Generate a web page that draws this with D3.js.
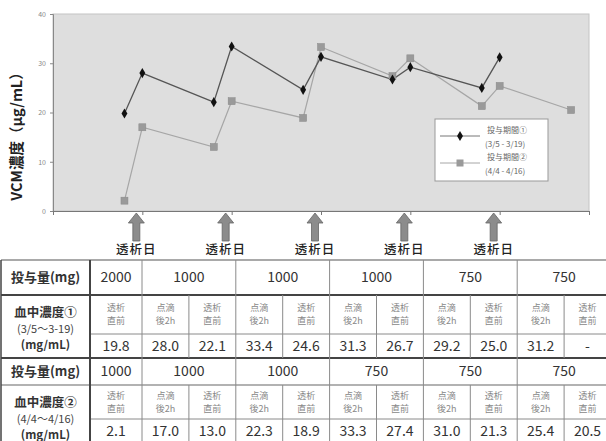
<!DOCTYPE html>
<html><head><meta charset="utf-8">
<script src="https://cdn.jsdelivr.net/npm/d3@7"></script>
<style>body{margin:0;background:#fff}svg{display:block}</style>
</head><body>
<script>
// ---- data ----
const xPos = [0.8, 1, 1.8, 2, 2.8, 3, 3.8, 4, 4.8, 5, 5.8];
const conc1 = [19.8, 28.0, 22.1, 33.4, 24.6, 31.3, 26.7, 29.2, 25.0, 31.2, null];
const conc2 = [2.1, 17.0, 13.0, 22.3, 18.9, 33.3, 27.4, 31.0, 21.3, 25.4, 20.5];
const timingLabels = ["透析\n直前","点滴\n後2h","透析\n直前","点滴\n後2h","透析\n直前","点滴\n後2h","透析\n直前","点滴\n後2h","透析\n直前","点滴\n後2h","透析\n直前"];
const dose1 = [2000, 1000, 1000, 1000, 750, 750];
const dose2 = [1000, 1000, 1000, 750, 750, 750];
const doseSpans = [1, 2, 2, 2, 2, 2];
const dialysisDays = [1, 2, 3, 4, 5];
const yTicks = [0, 10, 20, 30, 40];
const seriesNames = [["投与期間①", "(3/5 - 3/19)"], ["投与期間②", "(4/4 - 4/16)"]];
const rowHeads = ["投与量(mg)", "血中濃度①\n(3/5〜3-19)\n(mg/mL)", "投与量(mg)", "血中濃度②\n(4/4〜4/16)\n(mg/mL)"];

const W = 606, H = 441;
const F = "'Noto Sans CJK JP','Noto Sans',sans-serif";
const svg = d3.select("body").append("svg").attr("width", W).attr("height", H).style("font-family", F);

// ---- chart ----
const x = d3.scaleLinear().domain([0, 6]).range([53, 589]);
const y = d3.scaleLinear().domain([0, 40]).range([211, 14]);

svg.append("rect").attr("x", x(0)).attr("y", y(40)).attr("width", x(6) - x(0)).attr("height", y(0) - y(40))
  .attr("fill", "#dedede").attr("stroke", "#c4c4c4");

const yAxis = svg.append("g").attr("transform", `translate(${x(0)},0)`)
  .call(d3.axisLeft(y).tickValues(yTicks).tickSize(3).tickPadding(4));
yAxis.select(".domain").attr("stroke", "#888");
yAxis.selectAll("line").attr("stroke", "#888");
yAxis.selectAll("text").attr("fill", "#888").style("font-size", "7px").style("font-family", F);

const xAxis = svg.append("g").attr("transform", `translate(0,${y(0)})`)
  .call(d3.axisBottom(x).tickValues([0, 1, 2, 3, 4, 5, 6]).tickSize(4).tickFormat(""));
xAxis.select(".domain").attr("stroke", "#777");
xAxis.selectAll("line").attr("stroke", "#777");

svg.append("text").attr("transform", `translate(18,133) rotate(-90)`)
  .attr("text-anchor", "middle").attr("dominant-baseline", "middle")
  .style("font-size", "14.5px").style("font-weight", "bold").attr("fill", "#222")
  .text("VCM濃度（μg/mL）");

const pts1 = xPos.map((d, i) => [d, conc1[i]]).filter(d => d[1] != null);
const pts2 = xPos.map((d, i) => [d, conc2[i]]).filter(d => d[1] != null);
const line = d3.line().x(d => x(d[0])).y(d => y(d[1]));

svg.append("path").attr("d", line(pts2)).attr("fill", "none").attr("stroke", "#a6a6a6").attr("stroke-width", 1.2);
svg.append("path").attr("d", line(pts1)).attr("fill", "none").attr("stroke", "#555").attr("stroke-width", 1.3);

svg.selectAll(".sq").data(pts2).enter().append("rect")
  .attr("x", d => x(d[0]) - 3.5).attr("y", d => y(d[1]) - 3.5).attr("width", 7).attr("height", 7)
  .attr("fill", "#9a9a9a").attr("stroke", "#8a8a8a").attr("stroke-width", 0.5);
const diamond = d3.symbol().type(d3.symbolDiamond).size(30);
svg.selectAll(".dm").data(pts1).enter().append("path")
  .attr("transform", d => `translate(${x(d[0])},${y(d[1])})`).attr("d", diamond).attr("fill", "#111");

// legend
const lg = svg.append("g").attr("transform", "translate(435,119)");
lg.append("rect").attr("width", 113).attr("height", 62).attr("fill", "#fff").attr("stroke", "#999");
[0, 1].forEach(i => {
  const yy = 17 + i * 27;
  lg.append("line").attr("x1", 5).attr("x2", 45).attr("y1", yy).attr("y2", yy)
    .attr("stroke", i === 0 ? "#777" : "#a6a6a6").attr("stroke-width", 1);
  if (i === 0) lg.append("path").attr("transform", `translate(25,${yy})`).attr("d", diamond).attr("fill", "#111");
  else lg.append("rect").attr("x", 21.5).attr("y", yy - 3.5).attr("width", 7).attr("height", 7).attr("fill", "#9a9a9a");
  lg.append("text").attr("x", 52).attr("y", yy - 3).style("font-size", "8px").attr("fill", "#666").text(seriesNames[i][0]);
  lg.append("text").attr("x", 50).attr("y", yy + 11).style("font-size", "8px").attr("fill", "#666").text(seriesNames[i][1]);
});

// dialysis arrows
dialysisDays.forEach(d => {
  const cx = x(d) - 6;
  const g = svg.append("g").attr("transform", `translate(${cx},213)`);
  g.append("path").attr("d", "M0,0 L8,10 L3.5,10 L3.5,28 L-3.5,28 L-3.5,10 L-8,10 Z")
    .attr("fill", "#8c8c8c").attr("stroke", "#666").attr("stroke-width", 0.8);
  svg.append("text").attr("x", cx).attr("y", 254).attr("text-anchor", "middle")
    .style("font-size", "12.5px").style("font-weight", "500").attr("fill", "#222")
    .style("letter-spacing", "1px").text("透析日");
});

// ---- table ----
const colEdges = [1, 90, 142].concat(d3.range(1, 11).map(i => 142 + i * 46.9));
const rowEdges = [260, 295, 334, 358, 385, 419, 443];
const tg = svg.append("g");
const thin = "#8a8a8a";

function hline(x1, x2, yy, w, c) { tg.append("line").attr("x1", x1).attr("x2", x2).attr("y1", yy).attr("y2", yy).attr("stroke", c).attr("stroke-width", w); }
function vline(xx, y1, y2, w, c) { tg.append("line").attr("x1", xx).attr("x2", xx).attr("y1", y1).attr("y2", y2).attr("stroke", c).attr("stroke-width", w); }
function txt(xx, yy, s, size, color, weight) {
  tg.append("text").attr("x", xx).attr("y", yy).attr("dy", "0.35em").attr("text-anchor", "middle")
    .style("font-size", size + "px").style("font-weight", weight || "normal").attr("fill", color).text(s);
}

// horizontal lines
hline(1, W, rowEdges[0], 1.2, "#555");
hline(1, W, rowEdges[1], 2, "#444");
hline(colEdges[1], W, rowEdges[2], 1, thin);
hline(1, W, rowEdges[3], 2, "#444");
hline(1, W, rowEdges[4], 1.2, "#666");
hline(colEdges[1], W, rowEdges[5], 1, thin);
vline(1, rowEdges[0], H, 1.5, "#444");
vline(colEdges[1], rowEdges[0], H, 2, "#444");

// dose rows
function doseRow(doses, r) {
  let c = 0;
  doses.forEach((v, i) => {
    const x0 = colEdges[c + 1], x1 = colEdges[c + 1 + doseSpans[i]];
    if (i > 0) vline(x0, rowEdges[r], rowEdges[r + 1], 1, thin);
    txt((x0 + x1) / 2, (rowEdges[r] + rowEdges[r + 1]) / 2, String(v), 14, "#333");
    c += doseSpans[i];
  });
}
doseRow(dose1, 0);
doseRow(dose2, 3);

// concentration rows
function concRow(vals, r) {
  for (let i = 0; i < vals.length; i++) {
    const x0 = colEdges[i + 1], x1 = colEdges[i + 2];
    const cx = (x0 + x1) / 2;
    if (i > 0) vline(x0, rowEdges[r], rowEdges[r + 2], 1, thin);
    const parts = timingLabels[i].split("\n");
    const mid = (rowEdges[r] + rowEdges[r + 1]) / 2;
    txt(cx, mid - 6.5, parts[0], 9, "#888");
    txt(cx, mid + 6.5, parts[1], 9, "#888");
    txt(cx, (rowEdges[r + 1] + rowEdges[r + 2]) / 2, vals[i] == null ? "-" : vals[i].toFixed(1), 14, "#333");
  }
}
concRow(conc1, 1);
concRow(conc2, 4);

// row heads
const hx = (colEdges[0] + colEdges[1]) / 2;
txt(hx, (rowEdges[0] + rowEdges[1]) / 2, rowHeads[0], 13, "#333", "bold");
txt(hx, (rowEdges[3] + rowEdges[4]) / 2, rowHeads[2], 13, "#333", "bold");
[[1, 3], [4, 6]].forEach(([a, b], k) => {
  const parts = rowHeads[k === 0 ? 1 : 3].split("\n");
  const top = rowEdges[a];
  txt(hx, top + 18, parts[0], 12.5, "#333", "bold");
  txt(hx, top + 34, parts[1], 11, "#444");
  txt(hx, top + 50, parts[2], 11.5, "#333", "bold");
});
</script>
</body></html>
